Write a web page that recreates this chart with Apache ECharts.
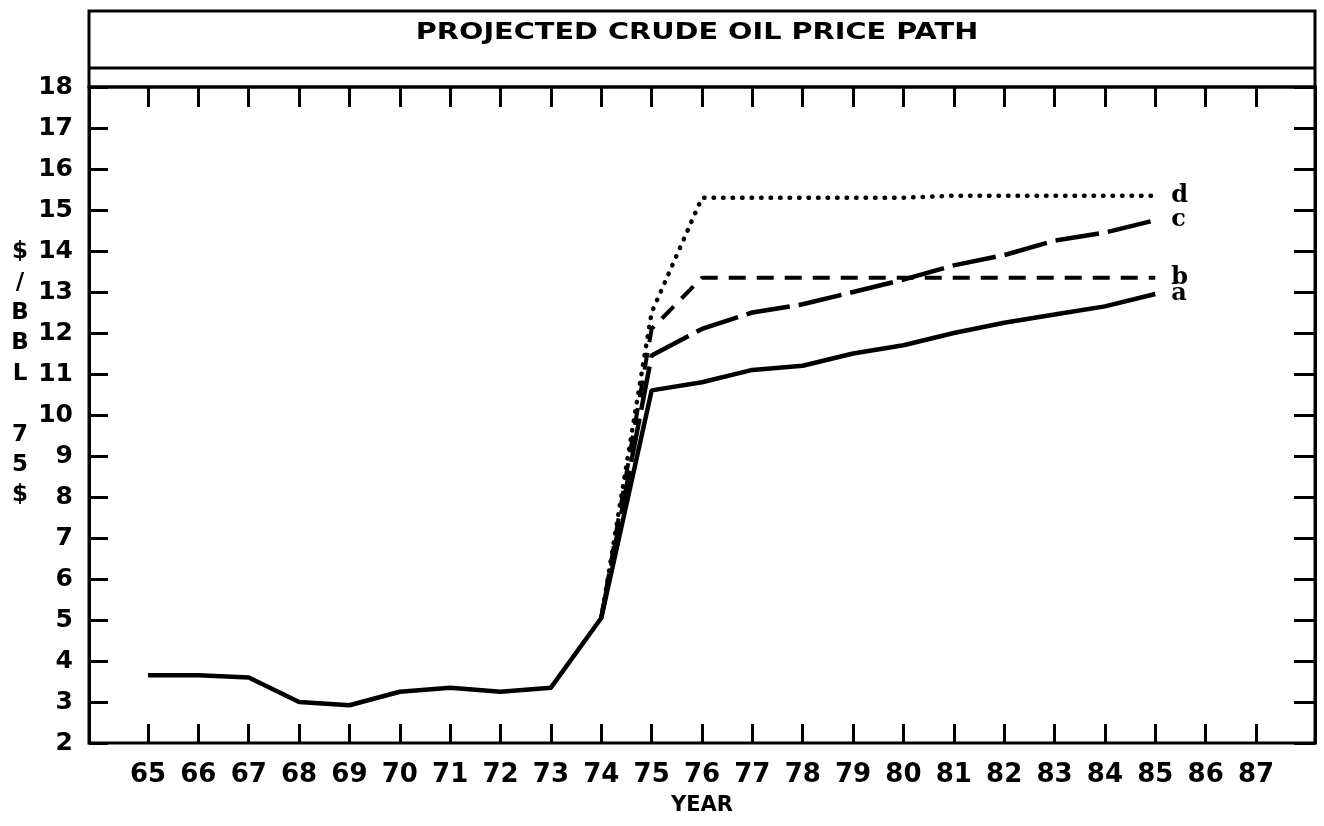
<!DOCTYPE html>
<html>
<head>
<meta charset="utf-8">
<title>Projected crude oil price path</title>
<script src="https://cdn.jsdelivr.net/npm/echarts@6.0.0/dist/echarts.min.js"></script>
<style>
  html, body { margin: 0; padding: 0; background: #fff; }
  #oil_chart { width: 1324px; height: 826px; }
</style>
</head>
<body>
<div id="oil_chart"></div>
<script>
// years on the x axis (19xx)
var years = [65, 66, 67, 68, 69, 70, 71, 72, 73, 74, 75, 76, 77, 78, 79, 80, 81, 82, 83, 84, 85];
var yearTicks = [65, 87];       // axis runs 65 .. 87
var priceTicks = [2, 18];       // $/BBL 75$ axis runs 2 .. 18

// history + path a (solid)
var pathA = [3.65, 3.65, 3.6, 3.0, 2.92, 3.25, 3.35, 3.25, 3.35, 5.05, 10.6, 10.8, 11.1, 11.2, 11.5, 11.7, 12.0, 12.25, 12.45, 12.65, 12.95];
// projections b, c, d branch off at 74
var pathB = [null, null, null, null, null, null, null, null, null, 5.05, 12.1, 13.35, 13.35, 13.35, 13.35, 13.35, 13.35, 13.35, 13.35, 13.35, 13.35];
var pathC = [null, null, null, null, null, null, null, null, null, 5.05, 11.45, 12.1, 12.5, 12.7, 13.0, 13.3, 13.65, 13.9, 14.25, 14.45, 14.75];
var pathD = [null, null, null, null, null, null, null, null, null, 5.05, 12.5, 15.3, 15.3, 15.3, 15.3, 15.3, 15.35, 15.35, 15.35, 15.35, 15.35];

var pathNames = ['a', 'b', 'c', 'd'];

function pairs(vals) {
  return years.map(function (y, i) { return [y, vals[i]]; });
}

var font = 'DejaVu Sans';

function lineSeries(name, vals, width, dash, cap) {
  return {
    name: name,
    type: 'line',
    xAxisIndex: 1,
    yAxisIndex: 2,
    data: pairs(vals),
    symbol: 'none',
    connectNulls: false,
    animation: false,
    lineStyle: { color: '#000', width: width, type: dash, cap: cap || 'butt' },
    endLabel: {
      show: true,
      formatter: name,
      distance: 16,
      color: '#000',
      fontFamily: 'DejaVu Serif',
      fontWeight: 'bold',
      fontSize: 24
    }
  };
}

var chart = echarts.init(document.getElementById('oil_chart'));

chart.setOption({
  backgroundColor: '#fff',
  animation: false,
  graphic: [
    { type: 'rect', shape: { x: 89, y: 11, width: 1226, height: 76 }, style: { fill: null, stroke: '#000', lineWidth: 3 } },
    { type: 'line', shape: { x1: 89, y1: 68, x2: 1315, y2: 68 }, style: { stroke: '#000', lineWidth: 3 } },
    {
      type: 'text', x: 697, y: 33, scaleX: 1.25,
      style: {
        text: 'PROJECTED CRUDE OIL PRICE PATH',
        fontFamily: font, fontWeight: 'bold', fontSize: 23,
        fill: '#000', align: 'center', verticalAlign: 'middle'
      }
    },
    {
      type: 'text', x: 20, y: 237,
      style: {
        text: '$\n/\nB\nB\nL\n\n7\n5\n$',
        fontFamily: font, fontWeight: 'bold', fontSize: 23,
        lineHeight: 30.4, fill: '#000', align: 'center', verticalAlign: 'top'
      }
    }
  ],
  grid: [
    { left: 89, right: 9, top: 87, bottom: 83, show: true, borderColor: '#000', borderWidth: 3, outerBoundsMode: 'none' },
    { left: 148, right: 68, top: 87, bottom: 83, outerBoundsMode: 'none' }
  ],
  xAxis: [
    { gridIndex: 0, type: 'value', min: 0, max: 1, show: false },
    {
      gridIndex: 1, type: 'value', min: yearTicks[0], max: yearTicks[1], interval: 1,
      name: 'YEAR', nameLocation: 'middle', nameGap: 52,
      nameTextStyle: { fontFamily: font, fontWeight: 'bold', fontSize: 21, color: '#000' },
      axisLine: { show: false },
      axisTick: { show: true, inside: true, length: 19, lineStyle: { color: '#000', width: 3 } },
      axisLabel: { margin: 19, color: '#000', fontFamily: font, fontWeight: 'bold', fontSize: 26 },
      splitLine: { show: false }
    },
    {
      gridIndex: 1, type: 'value', position: 'top', min: yearTicks[0], max: yearTicks[1], interval: 1,
      axisLine: { show: false },
      axisTick: { show: true, inside: true, length: 20, lineStyle: { color: '#000', width: 3 } },
      axisLabel: { show: false },
      splitLine: { show: false }
    }
  ],
  yAxis: [
    {
      gridIndex: 0, type: 'value', min: priceTicks[0], max: priceTicks[1], interval: 1,
      axisLine: { show: true, lineStyle: { color: '#000', width: 3 } },
      axisTick: { show: true, inside: true, length: 19, lineStyle: { color: '#000', width: 3 } },
      axisLabel: { margin: 16, color: '#000', fontFamily: font, fontWeight: 'bold', fontSize: 25 },
      splitLine: { show: false }
    },
    {
      gridIndex: 0, type: 'value', position: 'right', min: priceTicks[0], max: priceTicks[1], interval: 1,
      axisLine: { show: true, lineStyle: { color: '#000', width: 3 } },
      axisTick: { show: true, inside: true, length: 21, lineStyle: { color: '#000', width: 3 } },
      axisLabel: { show: false },
      splitLine: { show: false }
    },
    { gridIndex: 1, type: 'value', min: priceTicks[0], max: priceTicks[1], show: false }
  ],
  series: [
    lineSeries(pathNames[0], pathA, 4.5, 'solid'),
    lineSeries(pathNames[1], pathB, 4, [17, 11]),
    lineSeries(pathNames[2], pathC, 4.5, [44, 9]),
    lineSeries(pathNames[3], pathD, 4.5, [0.5, 9], 'round')
  ]
});
</script>
</body>
</html>
